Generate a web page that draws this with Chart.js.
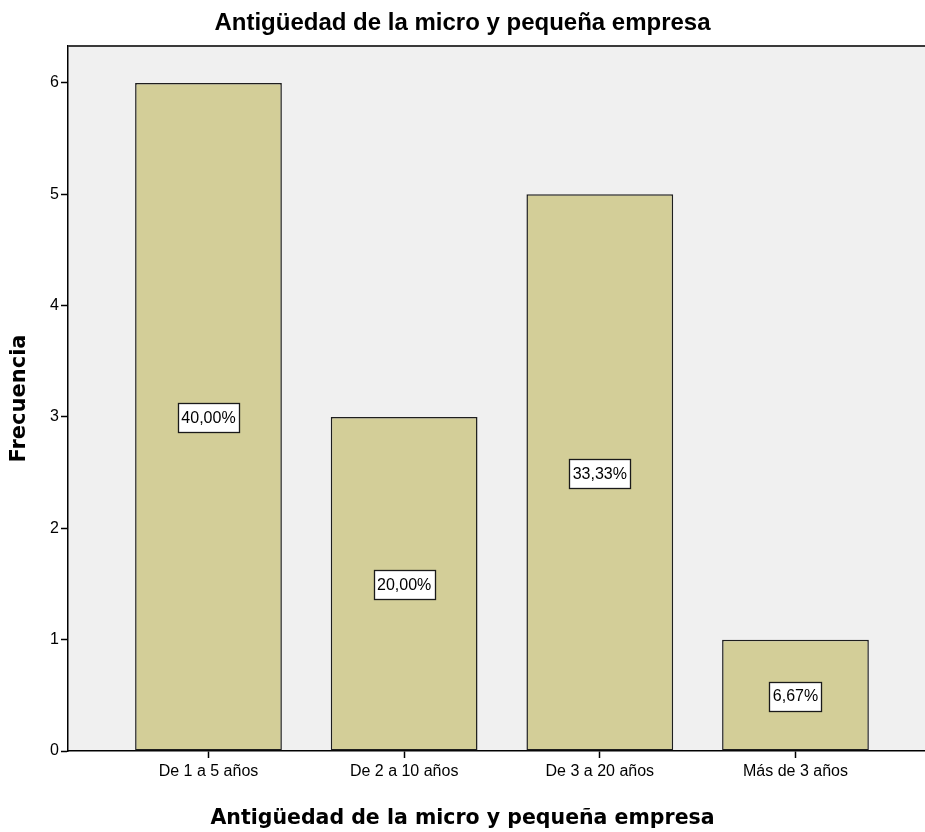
<!DOCTYPE html>
<html>
<head>
<meta charset="utf-8">
<script src="https://cdn.jsdelivr.net/npm/chart.js@4.4.1/dist/chart.umd.min.js"></script>
<style>
html,body{margin:0;padding:0;background:#fff;}
#wrap{width:925px;height:832px;position:relative;}
</style>
</head>
<body>
<div id="wrap"><canvas id="c" width="925" height="832"></canvas></div>
<script>
const chartTitle = 'Antigüedad de la micro y pequeña empresa';
const xAxisTitle = 'Antigüedad de la micro y pequeña empresa';
const yAxisTitle = 'Frecuencia';
const categories = ['De 1 a 5 años', 'De 2 a 10 años', 'De 3 a 20 años', 'Más de 3 años'];
const frequencies = [6, 3, 5, 1];
const percentages = [40.00, 20.00, 33.33, 6.67];
const yTicks = [0, 1, 2, 3, 4, 5, 6];

const points = categories.map((c, i) => ({ x: i + 1, y: frequencies[i] }));
const fmtPct = v => v.toFixed(2).replace('.', ',') + '%';

const plotDecor = {
  id: 'plotDecor',
  beforeDraw(chart) {
    const { ctx, chartArea: a } = chart;
    ctx.save();
    ctx.fillStyle = '#f0f0f0';
    ctx.fillRect(a.left, a.top, a.right - a.left, a.bottom - a.top);
    ctx.restore();
  },
  afterDatasetsDraw(chart) {
    const { ctx, chartArea: a } = chart;
    ctx.save();
    ctx.strokeStyle = '#3a3a3a';
    ctx.lineWidth = 2;
    ctx.beginPath();
    ctx.moveTo(a.left, a.top);
    ctx.lineTo(a.right, a.top);
    ctx.stroke();
    // percentage labels
    const meta = chart.getDatasetMeta(0);
    ctx.font = '16px "Liberation Sans", Arial, sans-serif';
    ctx.textAlign = 'center';
    ctx.textBaseline = 'middle';
    meta.data.forEach((bar, i) => {
      const txt = fmtPct(percentages[i]);
      const cx = bar.x;
      const cy = (bar.y + bar.base) / 2 + 1;
      const w = Math.round(ctx.measureText(txt).width + 7);
      const h = 29;
      const x0 = Math.round(cx - w / 2) + 0.5, y0 = Math.round(cy - h / 2) + 0.5;
      ctx.fillStyle = '#ffffff';
      ctx.fillRect(x0, y0, w, h);
      ctx.strokeStyle = '#1a1a1a';
      ctx.lineWidth = 1.3;
      ctx.strokeRect(x0, y0, w, h);
      ctx.fillStyle = '#000000';
      ctx.fillText(txt, cx, cy + 1);
    });
    ctx.restore();
  }
};

new Chart(document.getElementById('c'), {
  type: 'bar',
  data: {
    datasets: [{
      data: points,
      backgroundColor: '#d3ce98',
      borderColor: '#1e1e1e',
      borderWidth: 1.5,
      borderSkipped: false,
      barPercentage: 0.75,
      categoryPercentage: 1.0
    }]
  },
  options: {
    responsive: false,
    animation: false,
    devicePixelRatio: 1,
    layout: { padding: { left: 0, right: 0, top: 0, bottom: 0 } },
    plugins: {
      legend: { display: false },
      tooltip: { enabled: false },
      title: {
        display: true,
        text: chartTitle,
        color: '#000',
        font: { family: '"Liberation Sans", Arial, sans-serif', size: 24, weight: 'bold', lineHeight: 1.2 },
        padding: { top: 9, bottom: 8.2 }
      },
      subtitle: {
        display: true,
        position: 'bottom',
        text: xAxisTitle,
        color: '#000',
        font: { family: '"DejaVu Sans", sans-serif', size: 20.5, weight: 'bold', lineHeight: 1.2 },
        padding: { top: 14, bottom: 1.4 }
      }
    },
    scales: {
      x: {
        type: 'linear',
        min: 0.282,
        max: 4.662,
        offset: false,
        afterBuildTicks(scale) { scale.ticks = categories.map((c, i) => ({ value: i + 1 })); },
        afterFit(scale) { scale.height = 41; },
        grid: { display: true, offset: false, drawOnChartArea: false, drawTicks: true, tickLength: 7, tickColor: '#000', tickWidth: 1.5 },
        border: { display: true, color: '#000', width: 1.5 },
        ticks: {
          autoSkip: false,
          maxRotation: 0,
          padding: 4,
          color: '#000',
          font: { family: '"Liberation Sans", Arial, sans-serif', size: 16 },
          callback: v => categories[v - 1] || ''
        }
      },
      y: {
        min: 0,
        max: 6.332,
        afterBuildTicks(scale) { scale.ticks = yTicks.map(v => ({ value: v })); },
        afterFit(scale) { scale.width = 68; },
        grid: { display: true, drawOnChartArea: false, drawTicks: true, tickLength: 7, tickColor: '#000', tickWidth: 1.5 },
        border: { display: true, color: '#000', width: 1.5 },
        ticks: {
          padding: 2,
          color: '#000',
          font: { family: '"Liberation Sans", Arial, sans-serif', size: 16 }
        },
        title: {
          display: true,
          text: yAxisTitle,
          color: '#000',
          font: { family: '"DejaVu Sans", sans-serif', size: 21, weight: 'bold' },
          padding: { top: 7, bottom: 0 }
        }
      }
    }
  },
  plugins: [plotDecor]
});
</script>
</body>
</html>
